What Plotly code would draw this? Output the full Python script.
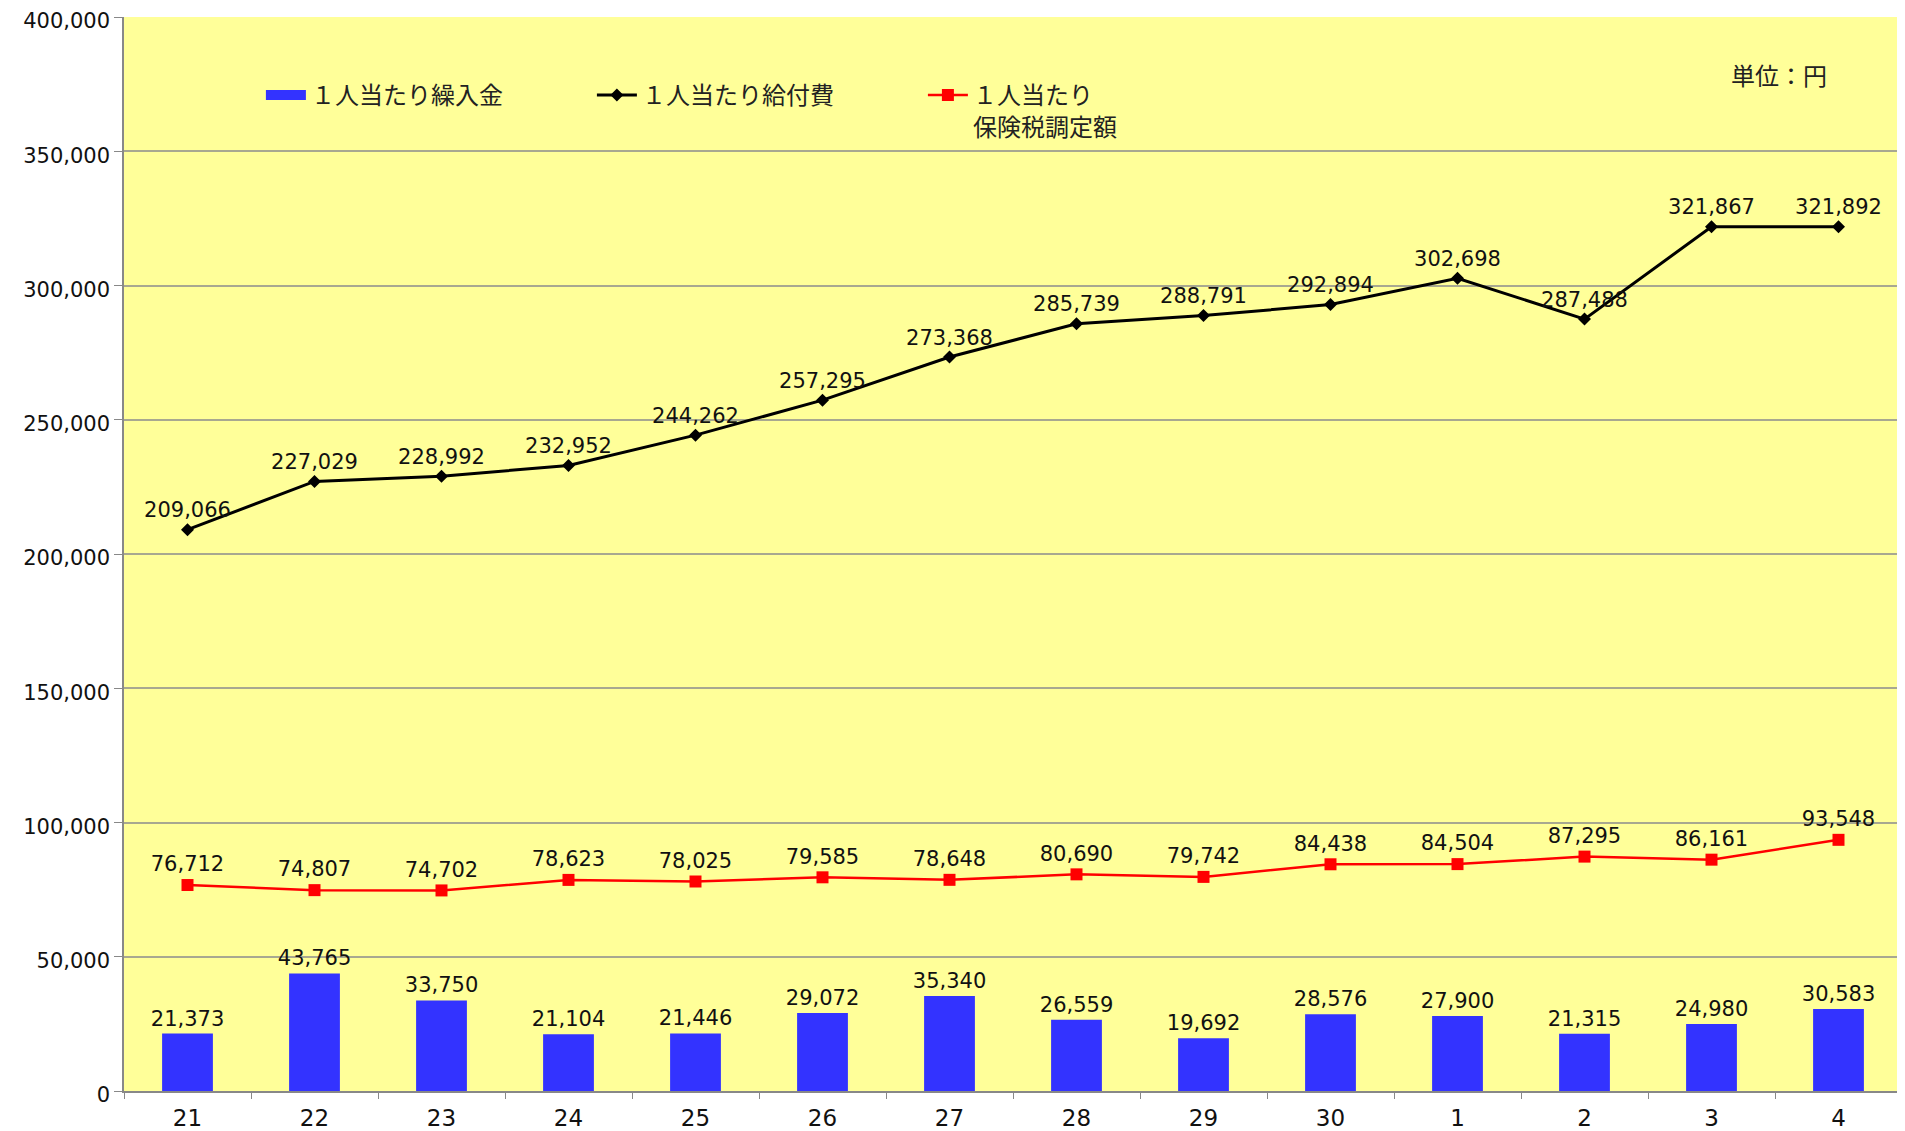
import plotly.graph_objects as go

years = ["21", "22", "23", "24", "25", "26", "27", "28", "29", "30", "1", "2", "3", "4"]
transfer = [21373, 43765, 33750, 21104, 21446, 29072, 35340, 26559, 19692, 28576, 27900, 21315, 24980, 30583]
benefit = [209066, 227029, 228992, 232952, 244262, 257295, 273368, 285739, 288791, 292894, 302698, 287488, 321867, 321892]
tax = [76712, 74807, 74702, 78623, 78025, 79585, 78648, 80690, 79742, 84438, 84504, 87295, 86161, 93548]

name_bar = "１人当たり繰入金"
name_benefit = "１人当たり給付費"
name_tax = "１人当たり<br>保険税調定額"
unit_text = "単位：円"

num_font = dict(family="DejaVu Sans, Liberation Sans, sans-serif", size=21, color="#111111")
xtick_font = dict(family="DejaVu Sans, Liberation Sans, sans-serif", size=23, color="#111111")
jp_font = dict(family="Noto Sans CJK JP, sans-serif", size=24, color="#222222")

fmt = lambda v: f"{v:,}"

fig = go.Figure()
fig.add_trace(go.Bar(
    x=years, y=transfer, name=name_bar, showlegend=False,
    marker=dict(color="#3333FF", line=dict(width=0)),
    width=0.4,
    text=[fmt(v) for v in transfer], textposition="outside",
    textfont=num_font, constraintext="none", cliponaxis=False,
))
# legend entry for the bars (wide rectangle symbol)
fig.add_trace(go.Scatter(
    x=[None], y=[None], name=name_bar, mode="lines",
    line=dict(color="#3333FF", width=12), showlegend=True,
))
fig.add_trace(go.Scatter(
    x=years, y=benefit, name=name_benefit,
    mode="lines+markers+text",
    line=dict(color="#000000", width=3),
    marker=dict(symbol="diamond", size=10, color="#000000"),
    text=[fmt(v) for v in benefit], textposition="top center",
    textfont=num_font, cliponaxis=False,
))
fig.add_trace(go.Scatter(
    x=years, y=tax, name=name_tax,
    mode="lines+markers+text",
    line=dict(color="#FF0000", width=2.5),
    marker=dict(symbol="square", size=12, color="#FF0000"),
    text=[fmt(v) for v in tax], textposition="top center",
    textfont=num_font, cliponaxis=False,
))

fig.add_annotation(
    text=unit_text, xref="paper", yref="paper", x=0.959, y=0.946,
    xanchor="right", yanchor="middle", showarrow=False, font=jp_font,
)

fig.update_layout(
    width=1905, height=1131,
    margin=dict(l=116, r=11, t=9, b=48, autoexpand=False),
    paper_bgcolor="#FFFFFF",
    plot_bgcolor="#FFFF99",
    showlegend=True,
    legend=dict(
        orientation="h", x=0.077, y=0.948, xanchor="left", yanchor="top",
        bgcolor="rgba(0,0,0,0)", font=jp_font, valign="top",
        entrywidth=276, entrywidthmode="pixels", itemwidth=40,
        traceorder="normal",
    ),
    xaxis=dict(
        type="category", tickson="boundaries", ticks="outside", ticklen=6,
        tickcolor="#888888", showline=True, linecolor="#888888", linewidth=1.5,
        showgrid=False, tickfont=xtick_font, range=[-0.5, 13.5],
        ticklabelstandoff=6, automargin=False,
    ),
    yaxis=dict(
        range=[0, 400000], dtick=50000, tickformat=",d",
        ticks="outside", ticklen=8, tickcolor="#888888",
        showline=True, linecolor="#888888", linewidth=1.5,
        showgrid=True, gridcolor="#A8A890", gridwidth=1.5,
        zeroline=False, tickfont=num_font, ticklabeloverflow="allow",
        ticklabelshift=4, automargin=False,
    ),
)

fig.write_html("out.html")
